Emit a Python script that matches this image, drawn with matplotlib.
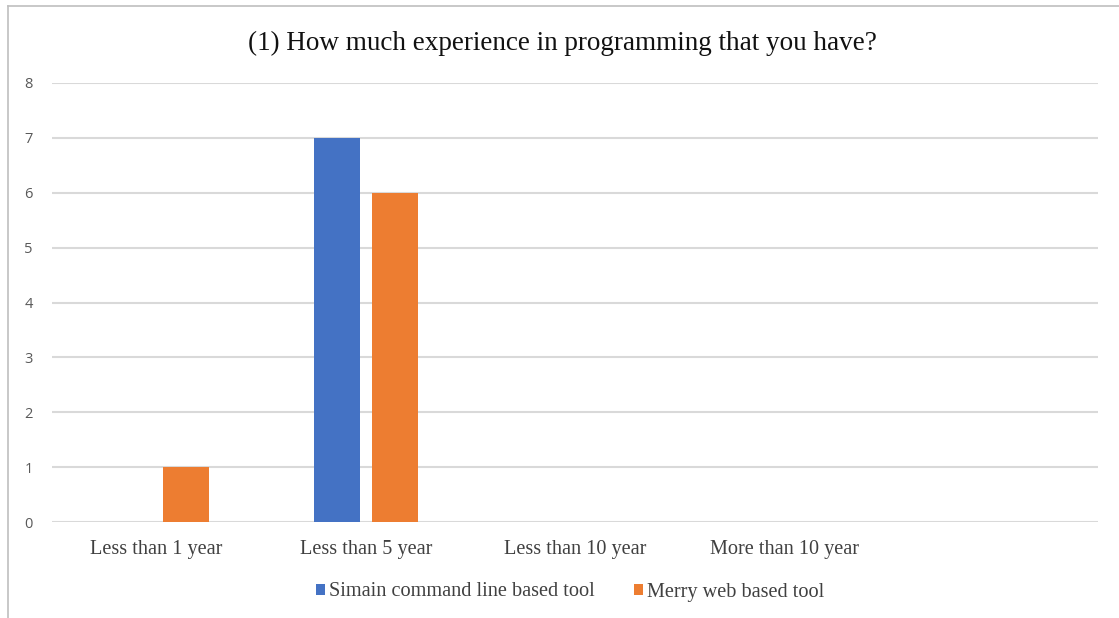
import matplotlib
matplotlib.use("Agg")
import matplotlib.pyplot as plt
from matplotlib.lines import Line2D
from matplotlib.patches import Patch
import numpy as np

categories = ["Less than 1 year", "Less than 5 year", "Less than 10 year",
              "More than 10 year", ""]
simain = [0, 7, 0, 0, 0]
merry = [1, 6, 0, 0, 0]
series_names = ["Simain command line based tool", "Merry web based tool"]
y_ticks = [0, 1, 2, 3, 4, 5, 6, 7, 8]

BLUE = "#4472C4"
ORANGE = "#ED7D31"
GRID = "#D9D9D9"
SERIF = "Liberation Serif"

fig = plt.figure(figsize=(11.19, 6.18), dpi=100)
ax = fig.add_axes([52 / 1119, 96 / 618, 1046 / 1119, 439 / 618])

x = np.arange(len(categories))
w = 0.22
off = 0.139
ax.bar(x - off, simain, width=w, color=BLUE, zorder=3)
ax.bar(x + off, merry, width=w, color=ORANGE, zorder=3)

ax.set_xlim(-0.5, len(categories) - 0.5)
ax.set_ylim(0, 8)
ax.set_yticks(y_ticks)
ax.set_xticks(x)
ax.set_xticklabels(categories, fontfamily=SERIF, fontsize=14.6, color="#404040")
for lab in ax.get_yticklabels():
    lab.set_fontfamily("Open Sans")
    lab.set_fontsize(10.5)
    lab.set_color("#595959")
ax.tick_params(axis="both", length=0)
ax.tick_params(axis="y", pad=14)
ax.tick_params(axis="x", pad=13)
ax.grid(axis="y", color=GRID, linewidth=1.5, zorder=0)
for s in ax.spines.values():
    s.set_visible(False)

fig.text(562 / 1119, 1 - 43 / 618,
         "(1) How much experience in programming that you have?",
         fontfamily=SERIF, fontsize=19.5, color="#111111",
         ha="center", va="center")

handles = [Patch(facecolor=BLUE, edgecolor="none"),
           Patch(facecolor=ORANGE, edgecolor="none")]
fig.legend(handles, series_names, loc="center",
           bbox_to_anchor=(570 / 1119, 1 - 592 / 618), ncol=2, frameon=False,
           prop={"family": SERIF, "size": 14.6}, labelcolor="#404040",
           handlelength=0.45, handleheight=0.45, handletextpad=0.2,
           columnspacing=1.9)

# outer frame edges (top and left)
fig.add_artist(Line2D([8 / 1119, 1], [1 - 6 / 618, 1 - 6 / 618],
                      transform=fig.transFigure, color="#BFBFBF", linewidth=1.2))
fig.add_artist(Line2D([8 / 1119, 8 / 1119], [0, 1 - 6 / 618],
                      transform=fig.transFigure, color="#BFBFBF", linewidth=1.2))

fig.savefig("out.png", dpi=100, facecolor="white")
